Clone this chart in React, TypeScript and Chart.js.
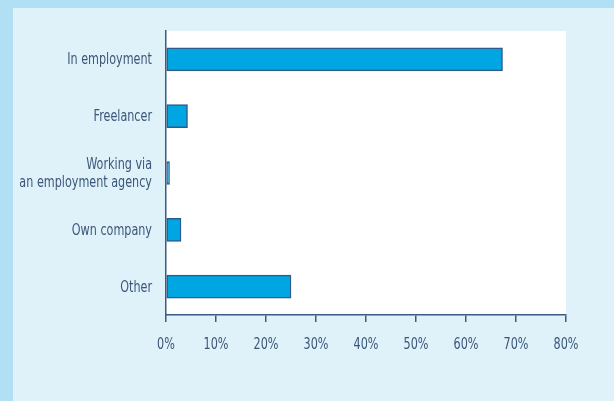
import React, { useEffect, useRef } from "react";
import { Chart, registerables } from "chart.js";

Chart.register(...registerables);

const categories: string[][] = [
  ["In employment"],
  ["Freelancer"],
  ["Working via", "an employment agency"],
  ["Own company"],
  ["Other"],
];
const shares: number[] = [67.3, 4.3, 0.7, 3.0, 25.0];
const xTicks: number[] = [0, 10, 20, 30, 40, 50, 60, 70, 80];

const FONT = '"DejaVu Sans Condensed", "DejaVu Sans", sans-serif';
const TEXT = "#3c5679";
const AXIS = "#3d5a80";
const SX = 0.83;

const whiteArea = {
  id: "whiteArea",
  beforeDraw(chart: any) {
    const { ctx, chartArea } = chart;
    ctx.save();
    ctx.fillStyle = "#ffffff";
    ctx.fillRect(chartArea.left, chartArea.top, chartArea.right - chartArea.left, chartArea.bottom - chartArea.top);
    ctx.restore();
  },
};

const condensedLabels = {
  id: "condensedLabels",
  afterDraw(chart: any) {
    const { ctx, chartArea } = chart;
    const xs = chart.scales.x;
    const ys = chart.scales.y;
    ctx.save();
    ctx.fillStyle = TEXT;
    ctx.font = `15px ${FONT}`;
    ctx.textBaseline = "alphabetic";
    // y labels
    ctx.textAlign = "right";
    categories.forEach((lines, i) => {
      const cy = ys.getPixelForTick(i);
      const n = lines.length;
      lines.forEach((t, j) => {
        const by = cy + 5 + (j - (n - 1) / 2) * 18.5;
        ctx.save();
        ctx.translate(chartArea.left - 14, by);
        ctx.scale(SX, 1);
        ctx.fillText(t, 0, 0);
        ctx.restore();
      });
    });
    // x labels
    ctx.textAlign = "center";
    xTicks.forEach((v) => {
      const px = xs.getPixelForValue(v);
      ctx.save();
      ctx.translate(px, xs.top + 34);
      ctx.scale(SX, 1);
      ctx.fillText(`${v}%`, 0, 0);
      ctx.restore();
    });
    ctx.restore();
  },
};

export default function App() {
  const ref = useRef<HTMLCanvasElement | null>(null);
  useEffect(() => {
    document.body.style.margin = "0";
    const chart = new Chart(ref.current as HTMLCanvasElement, {
      type: "bar",
      data: {
        labels: categories.map((l) => l.join(" ")),
        datasets: [
          {
            data: shares,
            backgroundColor: "#00a6e1",
            borderColor: "#2e5a8c",
            borderWidth: 1.5,
            borderSkipped: false,
            barThickness: 23,
          },
        ],
      },
      options: {
        indexAxis: "y",
        animation: false,
        responsive: false,
        devicePixelRatio: 1,
        layout: { padding: { top: 23, right: 48, left: 0, bottom: 0 } },
        plugins: { legend: { display: false }, tooltip: { enabled: false } },
        scales: {
          x: {
            min: 0,
            max: 80,
            afterBuildTicks: (s: any) => {
              s.ticks = xTicks.map((v) => ({ value: v }));
            },
            afterFit: (s: any) => {
              s.height = 86;
            },
            grid: {
              display: true,
              drawOnChartArea: false,
              drawTicks: true,
              tickLength: 7,
              color: AXIS,
              lineWidth: 1.5,
            },
            border: { display: true, color: AXIS, width: 1.5 },
            ticks: { display: false },
          },
          y: {
            afterFit: (s: any) => {
              s.width = 153;
            },
            grid: { display: false, drawTicks: false },
            border: { display: true, color: AXIS, width: 1.5 },
            ticks: { display: false },
          },
        },
      },
      plugins: [whiteArea, condensedLabels],
    });
    return () => chart.destroy();
  }, []);

  return (
    <div style={{ position: "relative", width: 614, height: 401, background: "#b1e0f5", overflow: "hidden" }}>
      <div style={{ position: "absolute", left: 13, top: 8, width: 601, height: 393, background: "#dff2fa" }}>
        <canvas ref={ref} width={601} height={393} style={{ display: "block", width: 601, height: 393 }} />
      </div>
    </div>
  );
}
